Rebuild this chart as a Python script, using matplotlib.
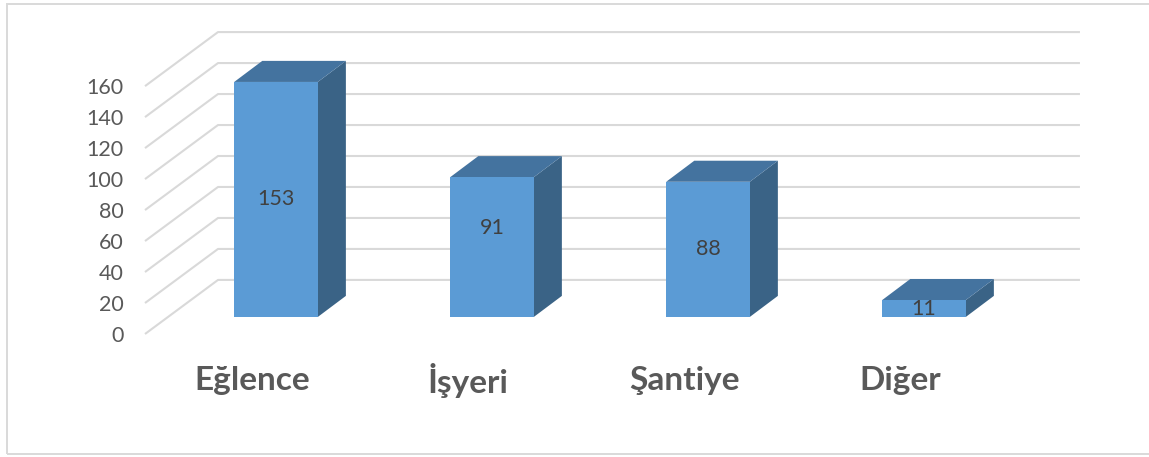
"""3D-style bar chart of incident locations."""

import matplotlib

matplotlib.use("Agg")
import matplotlib.pyplot as plt
from matplotlib.patches import Polygon, Rectangle

categories = ["Eğlence", "İşyeri", "Şantiye", "Diğer"]
values = [153, 91, 88, 11]
y_ticks = [0, 20, 40, 60, 80, 100, 120, 140, 160]
# small vertical nudge of a data label (value units), as placed in the original
label_nudge = {"İşyeri": 12}

FRONT = "#5b9bd5"
TOP = "#44739f"
SIDE = "#3a6386"
GRID = "#d9d9d9"
TEXT = "#595959"

# projection of the fake 3D box (x in category units, y in value units)
WALL_DX, WALL_DY = 0.338, 34.9  # front floor edge -> back wall
GRID_LEFT, GRID_RIGHT = -0.6065, 3.722
BAR_BASE = 11.0  # bars stand mid-depth on the floor
BAR_SCALE = 0.9915
BAR_W = 0.387
BAR_DX, BAR_DY = 0.13, 13.6

plt.rcParams["font.family"] = ["Lato", "DejaVu Sans"]

fig = plt.figure(figsize=(11.49, 4.57), dpi=100)
ax = fig.add_axes([0, 0, 1, 1])
ax.set_xlim(-1.2778, 4.0417)
ax.set_ylim(-79.4, 215.6)
ax.axis("off")

# chart border (right side runs off the picture)
fig.patches.append(
    Rectangle((0.0057, 0.0066), 1.1, 0.985, transform=fig.transFigure,
              fill=False, edgecolor=GRID, linewidth=1.4)
)

# gridlines: diagonal on the floor/side wall, then along the back wall
for v in y_ticks:
    ax.plot(
        [GRID_LEFT, GRID_LEFT + WALL_DX, GRID_RIGHT],
        [v, v + WALL_DY, v + WALL_DY],
        color=GRID, linewidth=1.5, zorder=1, solid_capstyle="butt",
    )
    ax.text(GRID_LEFT - 0.1, v - 1, str(v), ha="right", va="center",
            fontsize=15.5, color=TEXT)

for i, (cat, v) in enumerate(zip(categories, values)):
    x0 = i - BAR_W / 2
    x1 = i + BAR_W / 2
    y0 = BAR_BASE
    y1 = BAR_BASE + v * BAR_SCALE
    side = Polygon(
        [(x1, y0), (x1 + BAR_DX, y0 + BAR_DY), (x1 + BAR_DX, y1 + BAR_DY), (x1, y1)],
        closed=True, facecolor=SIDE, edgecolor="none", zorder=3,
    )
    top = Polygon(
        [(x0, y1), (x0 + BAR_DX, y1 + BAR_DY), (x1 + BAR_DX, y1 + BAR_DY), (x1, y1)],
        closed=True, facecolor=TOP, edgecolor="none", zorder=3,
    )
    front = Rectangle((x0, y0), BAR_W, y1 - y0, facecolor=FRONT,
                      edgecolor="none", zorder=4)
    for p in (side, top, front):
        ax.add_patch(p)

    ax.text(i, (y0 + y1) / 2 + label_nudge.get(cat, 0), str(v),
            ha="center", va="center", fontsize=15.5, color="#404040", zorder=5)
    ax.text(i - 0.11, -30.3, cat, ha="center", va="center",
            fontsize=24, fontweight="bold", color=TEXT)

fig.savefig("out.png", dpi=100)
